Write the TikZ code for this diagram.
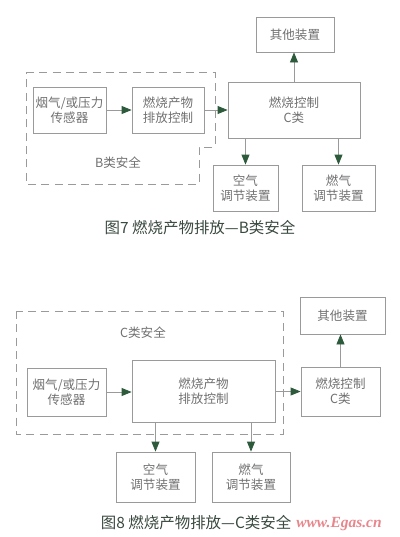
\documentclass[tikz,border=0pt]{standalone}
\usepackage{fontspec}
\setmainfont{Noto Sans CJK SC}
\newfontfamily\wmfont{Liberation Serif}
\usetikzlibrary{arrows.meta}
\definecolor{linegray}{HTML}{9A9A9A}
\definecolor{textgray}{HTML}{707070}
\definecolor{arrowgreen}{HTML}{2E5A3C}
\definecolor{capcolor}{HTML}{3A4A40}
\definecolor{wmred}{HTML}{E8868C}
\begin{document}
\begin{tikzpicture}[x=0.75pt,y=-0.75pt,
  box/.style={draw=linegray,line width=0.6pt,inner sep=0pt,align=center,
    text=textgray,font=\fontsize{9.4}{11.5}\selectfont},
  sz/.style 2 args={minimum width=#1*0.75pt,minimum height=#2*0.75pt},
  arr/.style={draw=linegray,line width=0.6pt,
    -{Triangle[length=7.5pt,width=6pt,color=arrowgreen,fill=arrowgreen]}},
  zone/.style={draw=linegray,line width=0.6pt,dash pattern=on 6pt off 4pt},
  zonelabel/.style={text=textgray,font=\fontsize{9.4}{11}\selectfont},
  caption/.style={text=capcolor,font=\fontsize{11.6}{13}\selectfont}]
\useasboundingbox (0,0) rectangle (400,537);
% ---------- Figure 7 ----------
\draw[zone] (26,72) -- (215,72) -- (215,147) -- (199,147) -- (199,184) -- (26,184) -- cycle;
\node[box,sz={78}{35}] (other1) at (295,34.5) {其他装置};
\node[box,sz={73}{46}] (sens1) at (69.5,110) {烟气/或压力\\传感器};
\node[box,sz={72}{46}] (prod1) at (168,110) {燃烧产物\\排放控制};
\node[box,sz={132}{56}] (ctrl1) at (294,110) {燃烧控制\\C类};
\node[box,sz={65}{46}] (air1) at (245.5,188) {空气\\调节装置};
\node[box,sz={73}{46}] (gas1) at (338.5,188) {燃气\\调节装置};
\node[zonelabel] (zlb) at (118,163) {B类安全};
\draw[arr] (sens1.east) -- (prod1.west);
\draw[arr] (prod1.east) -- (ctrl1.west);
\draw[arr] (ctrl1.north) -- (ctrl1.north |- other1.south);
\draw[arr] (air1.north |- ctrl1.south) -- (air1.north);
\draw[arr] (gas1.north |- ctrl1.south) -- (gas1.north);
\node[caption] (cap7) at (200,228) {图7\ 燃烧产物排放—B类安全};
% ---------- Figure 8 ----------
\draw[zone] (16,311) rectangle (283,434);
\node[box,sz={85}{37}] (other2) at (342.5,315.5) {其他装置};
\node[zonelabel] (zlc) at (143,333) {C类安全};
\node[box,sz={79}{48}] (sens2) at (66.5,392) {烟气/或压力\\传感器};
\node[box,sz={143}{62}] (prod2) at (203.5,391) {燃烧产物\\排放控制};
\node[box,sz={79}{49}] (ctrl2) at (340.5,391.5) {燃烧控制\\C类};
\node[box,sz={79}{50}] (air2) at (155.5,477) {空气\\调节装置};
\node[box,sz={78}{50}] (gas2) at (251,477) {燃气\\调节装置};
\draw[arr] (sens2.east) -- (sens2.east -| prod2.west);
\draw[arr] (prod2.east |- ctrl2.west) -- (ctrl2.west);
\draw[arr] (ctrl2.north) -- (ctrl2.north |- other2.south);
\draw[arr] (air2.north |- prod2.south) -- (air2.north);
\draw[arr] (gas2.north |- prod2.south) -- (gas2.north);
\node[caption,anchor=east] (cap8) at (296,523) {图8\ 燃烧产物排放—C类安全};
\node[anchor=west,inner sep=0pt,text=wmred,font=\wmfont\itshape\bfseries\fontsize{11.6}{13}\selectfont] (wm) at (296,524) {www.Egas.cn};
\end{tikzpicture}
\end{document}
